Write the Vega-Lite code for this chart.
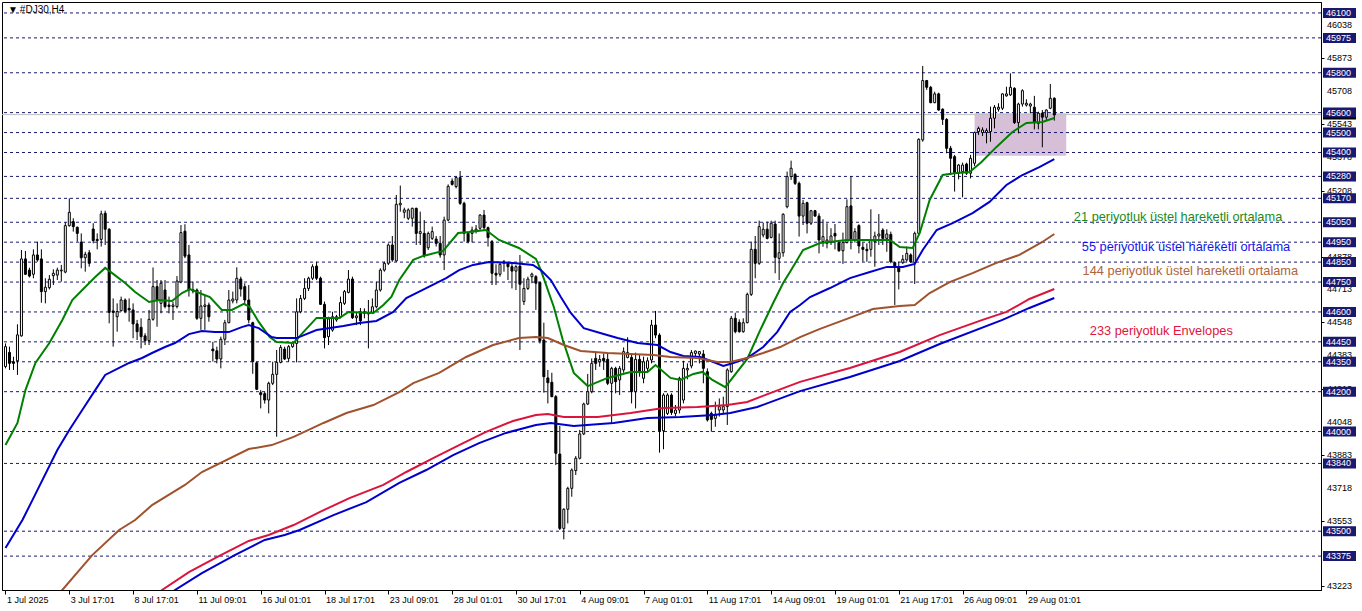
{
"$schema": "https://vega.github.io/schema/vega-lite/v6.json",
"width": 1319, "height": 588,
"autosize": {"type": "none"},
"padding": {"left": 2, "top": 2, "right": 41, "bottom": 21},
"background": "white",
"config": {"view": {"stroke": "black", "strokeWidth": 1}, "bar": {"continuousBandSize": 2}, "axis": {"labelOverlap": false, "labelFlush": false, "grid": false}},
"datasets": {
"candles": [
{"i":0,"o":44326,"h":44442,"l":44317,"c":44426},{"i":1,"o":44397,"h":44426,"l":44309,"c":44342},{"i":2,"o":44350,"h":44375,"l":44309,"c":44342},{"i":3,"o":44355,"h":44538,"l":44284,"c":44485},{"i":4,"o":44480,"h":44911,"l":44476,"c":44866},{"i":5,"o":44866,"h":44906,"l":44785,"c":44789},{"i":6,"o":44810,"h":44822,"l":44773,"c":44780},{"i":7,"o":44789,"h":44914,"l":44769,"c":44886},{"i":8,"o":44886,"h":44953,"l":44852,"c":44861},{"i":9,"o":44866,"h":44914,"l":44646,"c":44702},
{"i":10,"o":44702,"h":44769,"l":44643,"c":44724},{"i":11,"o":44722,"h":44785,"l":44713,"c":44764},{"i":12,"o":44782,"h":44814,"l":44735,"c":44794},{"i":13,"o":44785,"h":44822,"l":44760,"c":44810},{"i":14,"o":44806,"h":44836,"l":44752,"c":44810},{"i":15,"o":44800,"h":45050,"l":44794,"c":45033},{"i":16,"o":45033,"h":45170,"l":45028,"c":45100},{"i":17,"o":45053,"h":45070,"l":45003,"c":45028},{"i":18,"o":45025,"h":45028,"l":44953,"c":44994},{"i":19,"o":44950,"h":44994,"l":44819,"c":44872},
{"i":20,"o":44872,"h":44902,"l":44802,"c":44889},{"i":21,"o":44897,"h":44911,"l":44827,"c":44844},{"i":22,"o":45016,"h":45045,"l":44944,"c":44958},{"i":23,"o":44964,"h":44994,"l":44914,"c":44958},{"i":24,"o":44964,"h":45108,"l":44928,"c":45092},{"i":25,"o":45095,"h":45108,"l":44936,"c":45015},{"i":26,"o":45015,"h":45020,"l":44543,"c":44598},{"i":27,"o":44605,"h":44668,"l":44426,"c":44598},{"i":28,"o":44576,"h":44643,"l":44501,"c":44602},{"i":29,"o":44607,"h":44677,"l":44602,"c":44660},
{"i":30,"o":44660,"h":44668,"l":44593,"c":44602},{"i":31,"o":44618,"h":44668,"l":44551,"c":44610},{"i":32,"o":44610,"h":44643,"l":44468,"c":44540},{"i":33,"o":44540,"h":44560,"l":44459,"c":44501},{"i":34,"o":44523,"h":44568,"l":44417,"c":44476},{"i":35,"o":44480,"h":44493,"l":44434,"c":44456},{"i":36,"o":44456,"h":44610,"l":44434,"c":44563},{"i":37,"o":44563,"h":44823,"l":44556,"c":44727},{"i":38,"o":44727,"h":44760,"l":44526,"c":44660},{"i":39,"o":44643,"h":44760,"l":44593,"c":44744},
{"i":40,"o":44710,"h":44760,"l":44618,"c":44627},{"i":41,"o":44635,"h":44677,"l":44593,"c":44627},{"i":42,"o":44627,"h":44651,"l":44560,"c":44635},{"i":43,"o":44627,"h":44780,"l":44618,"c":44755},{"i":44,"o":44750,"h":45036,"l":44744,"c":44998},{"i":45,"o":45005,"h":45040,"l":44870,"c":44880},{"i":46,"o":44886,"h":44936,"l":44677,"c":44710},{"i":47,"o":44705,"h":44752,"l":44693,"c":44712},{"i":48,"o":44710,"h":44718,"l":44560,"c":44568},{"i":49,"o":44568,"h":44710,"l":44510,"c":44630},
{"i":50,"o":44627,"h":44685,"l":44510,"c":44635},{"i":51,"o":44635,"h":44647,"l":44551,"c":44576},{"i":52,"o":44414,"h":44450,"l":44351,"c":44405},{"i":53,"o":44405,"h":44426,"l":44342,"c":44364},{"i":54,"o":44364,"h":44476,"l":44317,"c":44463},{"i":55,"o":44463,"h":44560,"l":44434,"c":44546},{"i":56,"o":44546,"h":44710,"l":44543,"c":44660},{"i":57,"o":44655,"h":44702,"l":44643,"c":44665},{"i":58,"o":44660,"h":44824,"l":44643,"c":44769},{"i":59,"o":44765,"h":44777,"l":44677,"c":44715},
{"i":60,"o":44727,"h":44744,"l":44635,"c":44660},{"i":61,"o":44660,"h":44735,"l":44543,"c":44560},{"i":62,"o":44546,"h":44551,"l":44290,"c":44351},{"i":63,"o":44345,"h":44351,"l":44208,"c":44212},{"i":64,"o":44195,"h":44208,"l":44116,"c":44185},{"i":65,"o":44190,"h":44200,"l":44140,"c":44158},{"i":66,"o":44158,"h":44250,"l":44091,"c":44242},{"i":67,"o":44242,"h":44350,"l":44233,"c":44287},{"i":68,"o":44287,"h":44409,"l":43974,"c":44347},{"i":69,"o":44347,"h":44434,"l":44342,"c":44422},
{"i":70,"o":44414,"h":44426,"l":44359,"c":44364},{"i":71,"o":44367,"h":44434,"l":44350,"c":44426},{"i":72,"o":44426,"h":44450,"l":44420,"c":44442},{"i":73,"o":44442,"h":44668,"l":44347,"c":44601},{"i":74,"o":44601,"h":44685,"l":44593,"c":44668},{"i":75,"o":44668,"h":44769,"l":44660,"c":44718},{"i":76,"o":44718,"h":44777,"l":44705,"c":44769},{"i":77,"o":44769,"h":44839,"l":44760,"c":44827},{"i":78,"o":44830,"h":44852,"l":44760,"c":44769},{"i":79,"o":44769,"h":44777,"l":44635,"c":44638},
{"i":80,"o":44638,"h":44652,"l":44417,"c":44471},{"i":81,"o":44476,"h":44576,"l":44434,"c":44565},{"i":82,"o":44509,"h":44601,"l":44501,"c":44576},{"i":83,"o":44560,"h":44585,"l":44551,"c":44576},{"i":84,"o":44576,"h":44677,"l":44568,"c":44647},{"i":85,"o":44643,"h":44710,"l":44635,"c":44702},{"i":86,"o":44698,"h":44810,"l":44693,"c":44765},{"i":87,"o":44765,"h":44777,"l":44565,"c":44571},{"i":88,"o":44571,"h":44601,"l":44534,"c":44580},{"i":89,"o":44601,"h":44620,"l":44534,"c":44555},
{"i":90,"o":44593,"h":44618,"l":44568,"c":44601},{"i":91,"o":44598,"h":44660,"l":44417,"c":44590},{"i":92,"o":44598,"h":44668,"l":44593,"c":44626},{"i":93,"o":44626,"h":44752,"l":44618,"c":44710},{"i":94,"o":44710,"h":44819,"l":44702,"c":44810},{"i":95,"o":44810,"h":44852,"l":44802,"c":44844},{"i":96,"o":44844,"h":44944,"l":44835,"c":44936},{"i":97,"o":44936,"h":44981,"l":44852,"c":44861},{"i":98,"o":44856,"h":45187,"l":44852,"c":45140},{"i":99,"o":45137,"h":45234,"l":45103,"c":45145},
{"i":100,"o":45100,"h":45123,"l":45070,"c":45112},{"i":101,"o":45070,"h":45120,"l":45061,"c":45112},{"i":102,"o":45070,"h":45123,"l":45028,"c":45120},{"i":103,"o":45120,"h":45123,"l":44936,"c":44994},{"i":104,"o":44994,"h":45103,"l":44936,"c":45003},{"i":105,"o":44994,"h":45061,"l":44872,"c":44882},{"i":106,"o":44922,"h":45003,"l":44911,"c":44994},{"i":107,"o":44969,"h":45028,"l":44961,"c":45003},{"i":108,"o":44966,"h":44981,"l":44928,"c":44944},{"i":109,"o":44944,"h":44981,"l":44872,"c":44886},
{"i":110,"o":44886,"h":45078,"l":44810,"c":45061},{"i":111,"o":45061,"h":45240,"l":45055,"c":45230},{"i":112,"o":45257,"h":45270,"l":45234,"c":45240},{"i":113,"o":45229,"h":45279,"l":45220,"c":45274},{"i":114,"o":45274,"h":45307,"l":45137,"c":45145},{"i":115,"o":45145,"h":45153,"l":44953,"c":44994},{"i":116,"o":44994,"h":45003,"l":44944,"c":44953},{"i":117,"o":44994,"h":45028,"l":44949,"c":45011},{"i":118,"o":45006,"h":45036,"l":44994,"c":45016},{"i":119,"o":45020,"h":45090,"l":45011,"c":45086},
{"i":120,"o":45086,"h":45112,"l":45011,"c":45023},{"i":121,"o":45023,"h":45028,"l":44928,"c":44973},{"i":122,"o":44953,"h":44961,"l":44735,"c":44794},{"i":123,"o":44794,"h":44839,"l":44735,"c":44785},{"i":124,"o":44789,"h":44852,"l":44777,"c":44839},{"i":125,"o":44844,"h":44861,"l":44802,"c":44852},{"i":126,"o":44844,"h":44852,"l":44760,"c":44827},{"i":127,"o":44827,"h":44844,"l":44718,"c":44805},{"i":128,"o":44805,"h":44835,"l":44710,"c":44827},{"i":129,"o":44830,"h":44886,"l":44409,"c":44739},
{"i":130,"o":44652,"h":44769,"l":44635,"c":44718},{"i":131,"o":44718,"h":44777,"l":44710,"c":44765},{"i":132,"o":44777,"h":44797,"l":44744,"c":44790},{"i":133,"o":44777,"h":44785,"l":44610,"c":44744},{"i":134,"o":44747,"h":44752,"l":44442,"c":44456},{"i":135,"o":44459,"h":44546,"l":44195,"c":44275},{"i":136,"o":44269,"h":44309,"l":44141,"c":44245},{"i":137,"o":44247,"h":44295,"l":44172,"c":44175},{"i":138,"o":44175,"h":44183,"l":43832,"c":43891},{"i":139,"o":43887,"h":44028,"l":43506,"c":43514},
{"i":140,"o":43514,"h":43615,"l":43459,"c":43610},{"i":141,"o":43610,"h":43723,"l":43539,"c":43715},{"i":142,"o":43715,"h":43815,"l":43673,"c":43807},{"i":143,"o":43804,"h":43877,"l":43782,"c":43866},{"i":144,"o":43866,"h":44008,"l":43860,"c":43988},{"i":145,"o":43988,"h":44145,"l":43982,"c":44138},{"i":146,"o":44138,"h":44289,"l":44133,"c":44200},{"i":147,"o":44200,"h":44367,"l":44192,"c":44342},{"i":148,"o":44367,"h":44396,"l":44309,"c":44342},{"i":149,"o":44350,"h":44384,"l":44325,"c":44362},
{"i":150,"o":44367,"h":44392,"l":44309,"c":44355},{"i":151,"o":44362,"h":44389,"l":44233,"c":44242},{"i":152,"o":44242,"h":44325,"l":44041,"c":44317},{"i":153,"o":44317,"h":44325,"l":44192,"c":44250},{"i":154,"o":44259,"h":44329,"l":44183,"c":44317},{"i":155,"o":44309,"h":44422,"l":44295,"c":44401},{"i":156,"o":44372,"h":44473,"l":44367,"c":44396},{"i":157,"o":44372,"h":44392,"l":44141,"c":44200},{"i":158,"o":44200,"h":44396,"l":44116,"c":44362},{"i":159,"o":44362,"h":44384,"l":44275,"c":44295},
{"i":160,"o":44267,"h":44376,"l":44242,"c":44350},{"i":161,"o":44317,"h":44372,"l":44300,"c":44355},{"i":162,"o":44359,"h":44560,"l":44342,"c":44534},{"i":163,"o":44534,"h":44605,"l":44468,"c":44484},{"i":164,"o":44484,"h":44493,"l":43894,"c":44004},{"i":165,"o":44004,"h":44192,"l":43911,"c":44183},{"i":166,"o":44091,"h":44192,"l":44083,"c":44183},{"i":167,"o":44183,"h":44192,"l":44083,"c":44095},{"i":168,"o":44091,"h":44133,"l":44075,"c":44108},{"i":169,"o":44108,"h":44275,"l":44091,"c":44267},
{"i":170,"o":44158,"h":44355,"l":44141,"c":44317},{"i":171,"o":44309,"h":44342,"l":44262,"c":44317},{"i":172,"o":44329,"h":44409,"l":44317,"c":44396},{"i":173,"o":44392,"h":44406,"l":44376,"c":44404},{"i":174,"o":44389,"h":44404,"l":44342,"c":44401},{"i":175,"o":44389,"h":44409,"l":44242,"c":44317},{"i":176,"o":44300,"h":44317,"l":44050,"c":44058},{"i":177,"o":44091,"h":44100,"l":43999,"c":44061},{"i":178,"o":44066,"h":44150,"l":44024,"c":44083},{"i":179,"o":44108,"h":44166,"l":44075,"c":44125},
{"i":180,"o":44108,"h":44175,"l":44091,"c":44125},{"i":181,"o":44125,"h":44317,"l":44033,"c":44309},{"i":182,"o":44300,"h":44580,"l":44295,"c":44568},{"i":183,"o":44568,"h":44596,"l":44493,"c":44501},{"i":184,"o":44548,"h":44563,"l":44496,"c":44501},{"i":185,"o":44501,"h":44568,"l":44496,"c":44546},{"i":186,"o":44546,"h":44697,"l":44543,"c":44688},{"i":187,"o":44688,"h":44953,"l":44680,"c":44914},{"i":188,"o":44914,"h":44981,"l":44769,"c":44844},{"i":189,"o":44844,"h":45058,"l":44836,"c":45028},
{"i":190,"o":44986,"h":45048,"l":44974,"c":45015},{"i":191,"o":45015,"h":45053,"l":44964,"c":44969},{"i":192,"o":44974,"h":45058,"l":44969,"c":45045},{"i":193,"o":45041,"h":45058,"l":44794,"c":44874},{"i":194,"o":44869,"h":44994,"l":44760,"c":44897},{"i":195,"o":44897,"h":45095,"l":44877,"c":45090},{"i":196,"o":45128,"h":45304,"l":45120,"c":45279},{"i":197,"o":45279,"h":45359,"l":45262,"c":45321},{"i":198,"o":45290,"h":45296,"l":45237,"c":45245},{"i":199,"o":45245,"h":45254,"l":44978,"c":45081},
{"i":200,"o":45081,"h":45162,"l":45036,"c":45145},{"i":201,"o":45148,"h":45153,"l":44994,"c":45045},{"i":202,"o":45045,"h":45112,"l":45036,"c":45108},{"i":203,"o":45108,"h":45112,"l":45078,"c":45081},{"i":204,"o":45081,"h":45095,"l":44894,"c":44961},{"i":205,"o":44953,"h":45065,"l":44927,"c":44978},{"i":206,"o":44944,"h":45045,"l":44919,"c":44961},{"i":207,"o":44948,"h":45020,"l":44936,"c":44981},{"i":208,"o":44994,"h":45041,"l":44914,"c":44981},{"i":209,"o":44948,"h":44961,"l":44902,"c":44907},
{"i":210,"o":44907,"h":44998,"l":44841,"c":44948},{"i":211,"o":44948,"h":45165,"l":44944,"c":45128},{"i":212,"o":45132,"h":45282,"l":44914,"c":44961},{"i":213,"o":44961,"h":45020,"l":44948,"c":45003},{"i":214,"o":45033,"h":45040,"l":44894,"c":44931},{"i":215,"o":44924,"h":44948,"l":44852,"c":44914},{"i":216,"o":44914,"h":44944,"l":44852,"c":44907},{"i":217,"o":44914,"h":45115,"l":44877,"c":44961},{"i":218,"o":44953,"h":45003,"l":44827,"c":44981},{"i":219,"o":44981,"h":45091,"l":44936,"c":44991},
{"i":220,"o":45011,"h":45020,"l":44936,"c":44969},{"i":221,"o":44969,"h":45015,"l":44902,"c":44991},{"i":222,"o":44989,"h":45003,"l":44844,"c":44852},{"i":223,"o":44847,"h":44852,"l":44635,"c":44824},{"i":224,"o":44827,"h":44852,"l":44713,"c":44802},{"i":225,"o":44847,"h":44886,"l":44841,"c":44864},{"i":226,"o":44861,"h":44928,"l":44852,"c":44894},{"i":227,"o":44886,"h":44894,"l":44847,"c":44852},{"i":228,"o":44847,"h":45003,"l":44740,"c":44994},{"i":229,"o":44994,"h":45471,"l":44986,"c":45466},
{"i":230,"o":45463,"h":45834,"l":45454,"c":45761},{"i":231,"o":45761,"h":45764,"l":45714,"c":45727},{"i":232,"o":45727,"h":45734,"l":45647,"c":45650},{"i":233,"o":45650,"h":45705,"l":45647,"c":45694},{"i":234,"o":45694,"h":45700,"l":45610,"c":45613},{"i":235,"o":45617,"h":45622,"l":45538,"c":45566},{"i":236,"o":45566,"h":45572,"l":45396,"c":45421},{"i":237,"o":45421,"h":45433,"l":45287,"c":45371},{"i":238,"o":45379,"h":45388,"l":45204,"c":45299},{"i":239,"o":45296,"h":45342,"l":45265,"c":45337},
{"i":240,"o":45304,"h":45349,"l":45175,"c":45337},{"i":241,"o":45342,"h":45349,"l":45287,"c":45296},{"i":242,"o":45296,"h":45388,"l":45270,"c":45371},{"i":243,"o":45346,"h":45505,"l":45332,"c":45500},{"i":244,"o":45505,"h":45530,"l":45488,"c":45521},{"i":245,"o":45500,"h":45526,"l":45483,"c":45513},{"i":246,"o":45500,"h":45521,"l":45446,"c":45510},{"i":247,"o":45505,"h":45630,"l":45454,"c":45572},{"i":248,"o":45572,"h":45638,"l":45521,"c":45627},{"i":249,"o":45617,"h":45647,"l":45605,"c":45627},
{"i":250,"o":45622,"h":45697,"l":45613,"c":45694},{"i":251,"o":45684,"h":45730,"l":45680,"c":45694},{"i":252,"o":45689,"h":45797,"l":45684,"c":45727},{"i":253,"o":45722,"h":45727,"l":45543,"c":45550},{"i":254,"o":45550,"h":45650,"l":45496,"c":45643},{"i":255,"o":45643,"h":45717,"l":45630,"c":45710},{"i":256,"o":45638,"h":45667,"l":45630,"c":45647},{"i":257,"o":45633,"h":45650,"l":45597,"c":45643},{"i":258,"o":45627,"h":45684,"l":45516,"c":45550},{"i":259,"o":45546,"h":45605,"l":45516,"c":45597},
{"i":260,"o":45597,"h":45613,"l":45426,"c":45577},{"i":261,"o":45577,"h":45617,"l":45563,"c":45613},{"i":262,"o":45622,"h":45744,"l":45617,"c":45672},{"i":263,"o":45672,"h":45677,"l":45560,"c":45588}
],
"ma": [
{"s":"e21","i":0,"v":43932},{"s":"e21","i":3,"v":44043},{"s":"e21","i":5,"v":44208},{"s":"e21","i":7.5,"v":44344},{"s":"e21","i":11,"v":44444},{"s":"e21","i":14.25,"v":44560},{"s":"e21","i":16.75,"v":44660},{"s":"e21","i":19.25,"v":44710},{"s":"e21","i":22.5,"v":44775},{"s":"e21","i":25,"v":44821},{"s":"e21","i":26.75,"v":44795},{"s":"e21","i":30,"v":44745},{"s":"e21","i":32.5,"v":44700},{"s":"e21","i":36,"v":44650},{"s":"e21","i":38.5,"v":44660},{"s":"e21","i":41.75,"v":44655},{"s":"e21","i":44.25,"v":44695},{"s":"e21","i":46.25,"v":44715},{"s":"e21","i":49.25,"v":44690},{"s":"e21","i":51.25,"v":44675},{"s":"e21","i":54.25,"v":44610},{"s":"e21","i":56.75,"v":44610},{"s":"e21","i":59.75,"v":44640},{"s":"e21","i":61.25,"v":44625},{"s":"e21","i":63.5,"v":44550},{"s":"e21","i":66.25,"v":44474},{"s":"e21","i":68,"v":44449},{"s":"e21","i":72.25,"v":44444},{"s":"e21","i":74.75,"v":44500},{"s":"e21","i":78,"v":44570},{"s":"e21","i":83.75,"v":44570},{"s":"e21","i":86,"v":44600},{"s":"e21","i":92.25,"v":44595},{"s":"e21","i":94.75,"v":44635},{"s":"e21","i":96.75,"v":44675},{"s":"e21","i":98.75,"v":44760},{"s":"e21","i":102.25,"v":44861},{"s":"e21","i":104.75,"v":44881},{"s":"e21","i":109.75,"v":44906},{"s":"e21","i":113.5,"v":44996},{"s":"e21","i":116.25,"v":45001},{"s":"e21","i":120.5,"v":45011},{"s":"e21","i":123.75,"v":44961},{"s":"e21","i":128.75,"v":44921},{"s":"e21","i":133,"v":44866},{"s":"e21","i":134.25,"v":44810},{"s":"e21","i":137.5,"v":44625},{"s":"e21","i":139.75,"v":44459},{"s":"e21","i":142.5,"v":44294},{"s":"e21","i":146,"v":44228},{"s":"e21","i":151,"v":44269},{"s":"e21","i":156.75,"v":44299},{"s":"e21","i":161,"v":44299},{"s":"e21","i":163,"v":44334},{"s":"e21","i":166.75,"v":44269},{"s":"e21","i":169.25,"v":44259},{"s":"e21","i":172.5,"v":44289},{"s":"e21","i":174.75,"v":44299},{"s":"e21","i":177.25,"v":44259},{"s":"e21","i":180.5,"v":44223},{"s":"e21","i":182.5,"v":44274},{"s":"e21","i":186,"v":44364},{"s":"e21","i":189.25,"v":44509},{"s":"e21","i":192.5,"v":44645},{"s":"e21","i":195,"v":44745},{"s":"e21","i":196.75,"v":44802},{"s":"e21","i":199.25,"v":44886},{"s":"e21","i":200,"v":44911},{"s":"e21","i":204.25,"v":44946},{"s":"e21","i":211,"v":44961},{"s":"e21","i":216.75,"v":44961},{"s":"e21","i":221.75,"v":44961},{"s":"e21","i":224.25,"v":44926},{"s":"e21","i":227.5,"v":44921},{"s":"e21","i":229.25,"v":44996},{"s":"e21","i":231.75,"v":45162},{"s":"e21","i":235,"v":45287},{"s":"e21","i":238.5,"v":45297},{"s":"e21","i":241.75,"v":45302},{"s":"e21","i":244.75,"v":45352},{"s":"e21","i":248.5,"v":45428},{"s":"e21","i":252.5,"v":45503},{"s":"e21","i":256,"v":45548},{"s":"e21","i":260,"v":45553},{"s":"e21","i":263,"v":45573},
{"s":"e55","i":0,"v":43416},{"s":"e55","i":4.25,"v":43556},{"s":"e55","i":6.75,"v":43656},{"s":"e55","i":13,"v":43907},{"s":"e55","i":16,"v":44008},{"s":"e55","i":19.25,"v":44108},{"s":"e55","i":22.5,"v":44208},{"s":"e55","i":25,"v":44284},{"s":"e55","i":28.5,"v":44319},{"s":"e55","i":31,"v":44344},{"s":"e55","i":34.25,"v":44369},{"s":"e55","i":36.75,"v":44394},{"s":"e55","i":40,"v":44424},{"s":"e55","i":42.5,"v":44444},{"s":"e55","i":46,"v":44489},{"s":"e55","i":49.25,"v":44504},{"s":"e55","i":52.5,"v":44499},{"s":"e55","i":56,"v":44499},{"s":"e55","i":59.25,"v":44524},{"s":"e55","i":61,"v":44534},{"s":"e55","i":63.5,"v":44519},{"s":"e55","i":66.75,"v":44474},{"s":"e55","i":68,"v":44469},{"s":"e55","i":73,"v":44469},{"s":"e55","i":78,"v":44509},{"s":"e55","i":84.75,"v":44529},{"s":"e55","i":88.75,"v":44545},{"s":"e55","i":93,"v":44555},{"s":"e55","i":97.25,"v":44600},{"s":"e55","i":100.5,"v":44670},{"s":"e55","i":105.5,"v":44720},{"s":"e55","i":110.5,"v":44770},{"s":"e55","i":113.75,"v":44810},{"s":"e55","i":117.25,"v":44836},{"s":"e55","i":121.25,"v":44851},{"s":"e55","i":127.25,"v":44846},{"s":"e55","i":132.25,"v":44836},{"s":"e55","i":134.25,"v":44810},{"s":"e55","i":136.75,"v":44760},{"s":"e55","i":139.25,"v":44675},{"s":"e55","i":141.75,"v":44595},{"s":"e55","i":145,"v":44519},{"s":"e55","i":150,"v":44489},{"s":"e55","i":153.5,"v":44469},{"s":"e55","i":158.5,"v":44444},{"s":"e55","i":163.5,"v":44434},{"s":"e55","i":166.75,"v":44399},{"s":"e55","i":170,"v":44379},{"s":"e55","i":174.25,"v":44374},{"s":"e55","i":177.5,"v":44349},{"s":"e55","i":180,"v":44329},{"s":"e55","i":182.5,"v":44344},{"s":"e55","i":186,"v":44369},{"s":"e55","i":190,"v":44424},{"s":"e55","i":193.5,"v":44499},{"s":"e55","i":196.75,"v":44600},{"s":"e55","i":199.25,"v":44635},{"s":"e55","i":201.75,"v":44675},{"s":"e55","i":206.75,"v":44720},{"s":"e55","i":211.75,"v":44770},{"s":"e55","i":216.75,"v":44800},{"s":"e55","i":221,"v":44826},{"s":"e55","i":225,"v":44826},{"s":"e55","i":228,"v":44841},{"s":"e55","i":230,"v":44911},{"s":"e55","i":233.5,"v":45011},{"s":"e55","i":237.5,"v":45046},{"s":"e55","i":242.5,"v":45096},{"s":"e55","i":246.75,"v":45152},{"s":"e55","i":251,"v":45237},{"s":"e55","i":255,"v":45287},{"s":"e55","i":259.25,"v":45327},{"s":"e55","i":263,"v":45367},
{"s":"e144","i":11.75,"v":43145},{"s":"e144","i":14.25,"v":43205},{"s":"e144","i":21.75,"v":43380},{"s":"e144","i":28.5,"v":43506},{"s":"e144","i":32.5,"v":43556},{"s":"e144","i":36.75,"v":43631},{"s":"e144","i":45,"v":43732},{"s":"e144","i":49.25,"v":43797},{"s":"e144","i":61,"v":43912},{"s":"e144","i":66.75,"v":43932},{"s":"e144","i":72.25,"v":43973},{"s":"e144","i":79.75,"v":44043},{"s":"e144","i":85.5,"v":44093},{"s":"e144","i":92.25,"v":44133},{"s":"e144","i":98.75,"v":44198},{"s":"e144","i":102.25,"v":44243},{"s":"e144","i":108.75,"v":44294},{"s":"e144","i":115.5,"v":44374},{"s":"e144","i":122.25,"v":44434},{"s":"e144","i":128.75,"v":44469},{"s":"e144","i":133,"v":44474},{"s":"e144","i":136,"v":44469},{"s":"e144","i":140,"v":44434},{"s":"e144","i":144.25,"v":44404},{"s":"e144","i":151,"v":44394},{"s":"e144","i":156.75,"v":44389},{"s":"e144","i":162.5,"v":44384},{"s":"e144","i":166.75,"v":44374},{"s":"e144","i":173.5,"v":44369},{"s":"e144","i":178.5,"v":44349},{"s":"e144","i":181.75,"v":44349},{"s":"e144","i":186,"v":44369},{"s":"e144","i":190,"v":44394},{"s":"e144","i":194.25,"v":44424},{"s":"e144","i":199.25,"v":44474},{"s":"e144","i":204.25,"v":44515},{"s":"e144","i":211,"v":44565},{"s":"e144","i":217.5,"v":44615},{"s":"e144","i":224.25,"v":44630},{"s":"e144","i":228,"v":44635},{"s":"e144","i":231.75,"v":44695},{"s":"e144","i":236.75,"v":44750},{"s":"e144","i":242.5,"v":44795},{"s":"e144","i":248.5,"v":44846},{"s":"e144","i":254.25,"v":44886},{"s":"e144","i":260,"v":44951},{"s":"e144","i":263,"v":44991},
{"s":"envU","i":36.75,"v":43165},{"s":"envU","i":39.25,"v":43205},{"s":"envU","i":46,"v":43295},{"s":"envU","i":53.5,"v":43375},{"s":"envU","i":61,"v":43451},{"s":"envU","i":66,"v":43481},{"s":"envU","i":72.25,"v":43531},{"s":"envU","i":78.75,"v":43596},{"s":"envU","i":86.25,"v":43666},{"s":"envU","i":94.75,"v":43732},{"s":"envU","i":100.5,"v":43797},{"s":"envU","i":107.25,"v":43867},{"s":"envU","i":113.75,"v":43932},{"s":"envU","i":120.5,"v":43998},{"s":"envU","i":127.25,"v":44053},{"s":"envU","i":133,"v":44083},{"s":"envU","i":136,"v":44088},{"s":"envU","i":140,"v":44073},{"s":"envU","i":148.5,"v":44073},{"s":"envU","i":156.75,"v":44093},{"s":"envU","i":165,"v":44118},{"s":"envU","i":173.5,"v":44123},{"s":"envU","i":181,"v":44133},{"s":"envU","i":186,"v":44148},{"s":"envU","i":191.75,"v":44193},{"s":"envU","i":199.25,"v":44249},{"s":"envU","i":211.75,"v":44319},{"s":"envU","i":224.25,"v":44399},{"s":"envU","i":234.25,"v":44484},{"s":"envU","i":245,"v":44560},{"s":"envU","i":251,"v":44600},{"s":"envU","i":256.75,"v":44665},{"s":"envU","i":263,"v":44715},
{"s":"envL","i":39.25,"v":43150},{"s":"envL","i":42.5,"v":43205},{"s":"envL","i":49.25,"v":43290},{"s":"envL","i":57.5,"v":43380},{"s":"envL","i":65,"v":43456},{"s":"envL","i":70,"v":43481},{"s":"envL","i":73.75,"v":43506},{"s":"envL","i":82.25,"v":43581},{"s":"envL","i":90.5,"v":43646},{"s":"envL","i":98.75,"v":43742},{"s":"envL","i":105.5,"v":43807},{"s":"envL","i":112.25,"v":43882},{"s":"envL","i":118.75,"v":43942},{"s":"envL","i":125.5,"v":43993},{"s":"envL","i":133,"v":44033},{"s":"envL","i":136.75,"v":44043},{"s":"envL","i":142.5,"v":44028},{"s":"envL","i":152.5,"v":44043},{"s":"envL","i":161,"v":44068},{"s":"envL","i":169.25,"v":44073},{"s":"envL","i":177.5,"v":44083},{"s":"envL","i":181.75,"v":44093},{"s":"envL","i":188.5,"v":44123},{"s":"envL","i":199.25,"v":44203},{"s":"envL","i":211.75,"v":44274},{"s":"envL","i":224.25,"v":44354},{"s":"envL","i":234.25,"v":44439},{"s":"envL","i":250,"v":44560},{"s":"envL","i":256.75,"v":44620},{"s":"envL","i":263,"v":44670}
],
"levels": [{"v":46100},{"v":45975},{"v":45800},{"v":45600},{"v":45500},{"v":45400},{"v":45280},{"v":45170},{"v":45050},{"v":44950},{"v":44850},{"v":44750},{"v":44600},{"v":44450},{"v":44350},{"v":44200},{"v":44000},{"v":43840},{"v":43500},{"v":43375}],
"yticks": [{"v":46038},{"v":45873},{"v":45708},{"v":45543},{"v":45378},{"v":45208},{"v":45043},{"v":44878},{"v":44713},{"v":44548},{"v":44383},{"v":44213},{"v":44048},{"v":43883},{"v":43718},{"v":43553},{"v":43388},{"v":43223}],
"legend": [
{"t":"21 periyotluk üstel hareketli ortalama","k":"e21","i":267.9,"v":45076},
{"t":"55 periyotluk üstel hareketli ortalama","k":"e55","i":269.9,"v":44926},
{"t":"144 periyotluk üstel hareketli ortalama","k":"e144","i":270.1,"v":44805},
{"t":"233 periyotluk Envelopes","k":"envU","i":271.9,"v":44504}
],
"title": [{"t":"▼","i":0.6,"v":46117},{"t":"#DJ30,H4","i":3.6,"v":46115}],
"bid": [{"v":45590}],
"zone": [{"i0":243,"i1":266,"v0":45384,"v1":45597}]
},
"layer": [
{"data": {"name": "zone"}, "mark": {"type": "rect", "fill": "#D8BFD8", "opacity": 1},
 "encoding": {
  "x": {"field": "i0", "type": "quantitative", "scale": {"domain": [-0.375, 329.375], "nice": false, "zero": false},
        "axis": {"orient": "bottom", "values": [0,16,32,48,64,80,96,112,128,144,160,176,192,208,224,240,256],
                 "labelExpr": "['1 Jul 2025','3 Jul 17:01','8 Jul 17:01','11 Jul 09:01','16 Jul 01:01','18 Jul 17:01','23 Jul 09:01','28 Jul 01:01','30 Jul 17:01','4 Aug 09:01','7 Aug 01:01','11 Aug 17:01','14 Aug 09:01','19 Aug 01:01','21 Aug 17:01','26 Aug 09:01','29 Aug 01:01'][round(datum.value/16)]",
                 "title": null, "grid": false, "domain": true, "domainColor": "black", "ticks": true, "tickColor": "black", "tickSize": 4,
                 "labelAlign": "left", "labelOffset": 1, "labelPadding": 1, "labelFont": "Liberation Sans", "labelFontSize": 9, "labelColor": "black",
                 "labelOverlap": false, "labelFlush": false}},
  "x2": {"field": "i1"},
  "y": {"field": "v0", "type": "quantitative", "scale": {"domain": [43205, 46155], "nice": false, "zero": false},
        "axis": {"orient": "right", "values": [46038,45873,45708,45543,45378,45208,45043,44878,44713,44548,44383,44213,44048,43883,43718,43553,43388,43223],
                 "title": null, "grid": false, "domain": true, "domainColor": "black", "ticks": true, "tickColor": "black", "tickSize": 3, "labels": false}},
  "y2": {"field": "v1"}
 }},
{"data": {"name": "bid"}, "mark": {"type": "rule", "stroke": "#C0C0C0", "strokeWidth": 1},
 "encoding": {"y": {"field": "v", "type": "quantitative", "scale": {"domain": [43205, 46155], "nice": false, "zero": false}, "axis": {"title": null}}}},
{"data": {"name": "levels"}, "mark": {"type": "rule", "stroke": "#191970", "strokeWidth": 1, "strokeDash": [3, 3]},
 "encoding": {"y": {"field": "v", "type": "quantitative", "scale": {"domain": [43205, 46155], "nice": false, "zero": false}, "axis": {"title": null}}}},
{"data": {"name": "candles"}, "mark": {"type": "rule", "stroke": "black", "strokeWidth": 1},
 "encoding": {
  "x": {"field": "i", "type": "quantitative", "scale": {"domain": [-0.375, 329.375], "nice": false, "zero": false}, "axis": {"title": null}},
  "y": {"field": "l", "type": "quantitative", "scale": {"domain": [43205, 46155], "nice": false, "zero": false}, "axis": {"title": null}},
  "y2": {"field": "h"}
 }},
{"data": {"name": "candles"}, "mark": {"type": "bar", "size": 2, "stroke": "black", "strokeWidth": 1},
 "encoding": {
  "x": {"field": "i", "type": "quantitative", "scale": {"domain": [-0.375, 329.375], "nice": false, "zero": false}, "axis": {"title": null}},
  "y": {"field": "o", "type": "quantitative", "scale": {"domain": [43205, 46155], "nice": false, "zero": false}, "axis": {"title": null}},
  "y2": {"field": "c"},
  "fill": {"condition": {"test": "datum.c >= datum.o", "value": "white"}, "value": "black"}
 }},
{"data": {"name": "ma"}, "mark": {"type": "line", "strokeWidth": 2, "clip": true, "interpolate": "linear"},
 "encoding": {
  "x": {"field": "i", "type": "quantitative", "scale": {"domain": [-0.375, 329.375], "nice": false, "zero": false}, "axis": {"title": null}},
  "y": {"field": "v", "type": "quantitative", "scale": {"domain": [43205, 46155], "nice": false, "zero": false}, "axis": {"title": null}},
  "color": {"field": "s", "type": "nominal", "scale": {"domain": ["e21","e55","e144","envU","envL"], "range": ["#008000","#0000CD","#A0522D","#DC143C","#0000CD"]}, "legend": null}
 }},
{"data": {"name": "legend"}, "mark": {"type": "text", "align": "left", "baseline": "middle", "font": "Liberation Sans", "fontSize": 12.8},
 "encoding": {
  "x": {"field": "i", "type": "quantitative", "scale": {"domain": [-0.375, 329.375], "nice": false, "zero": false}, "axis": {"title": null}},
  "y": {"field": "v", "type": "quantitative", "scale": {"domain": [43205, 46155], "nice": false, "zero": false}, "axis": {"title": null}},
  "text": {"field": "t"},
  "fill": {"field": "k", "type": "nominal", "scale": {"domain": ["e21","e55","e144","envU"], "range": ["#1A8A1A","#1414F0","#B0643C","#E0143C"]}, "legend": null}
 }},
{"data": {"name": "title"}, "mark": {"type": "text", "align": "left", "baseline": "middle", "font": "Liberation Sans", "fontSize": 10, "fill": "black"},
 "encoding": {
  "x": {"field": "i", "type": "quantitative", "scale": {"domain": [-0.375, 329.375], "nice": false, "zero": false}, "axis": {"title": null}},
  "y": {"field": "v", "type": "quantitative", "scale": {"domain": [43205, 46155], "nice": false, "zero": false}, "axis": {"title": null}},
  "text": {"field": "t"}
 }},
{"data": {"name": "yticks"}, "mark": {"type": "text", "align": "left", "baseline": "middle", "dx": 6, "font": "Liberation Sans", "fontSize": 9, "fill": "black"},
 "encoding": {
  "x": {"value": "width"},
  "y": {"field": "v", "type": "quantitative", "scale": {"domain": [43205, 46155], "nice": false, "zero": false}, "axis": {"title": null}},
  "text": {"field": "v", "type": "quantitative", "format": "d"}
 }},
{"data": {"name": "bid"}, "mark": {"type": "point", "filled": true, "opacity": 1, "fill": "black", "strokeWidth": 0, "size": 4, "shape": "M2,-5H35V5H2Z"},
 "encoding": {
  "x": {"value": "width"},
  "y": {"field": "v", "type": "quantitative", "scale": {"domain": [43205, 46155], "nice": false, "zero": false}, "axis": {"title": null}}
 }},
{"data": {"name": "levels"}, "mark": {"type": "point", "filled": true, "opacity": 1, "fill": "#191970", "strokeWidth": 0, "size": 4, "shape": "M2,-5H35V5H2Z"},
 "encoding": {
  "x": {"value": "width"},
  "y": {"field": "v", "type": "quantitative", "scale": {"domain": [43205, 46155], "nice": false, "zero": false}, "axis": {"title": null}}
 }},
{"data": {"name": "levels"}, "mark": {"type": "text", "align": "left", "baseline": "middle", "dx": 5, "font": "Liberation Sans", "fontSize": 9, "fill": "white"},
 "encoding": {
  "x": {"value": "width"},
  "y": {"field": "v", "type": "quantitative", "scale": {"domain": [43205, 46155], "nice": false, "zero": false}, "axis": {"title": null}},
  "text": {"field": "v", "type": "quantitative", "format": "d"}
 }}
]
}
